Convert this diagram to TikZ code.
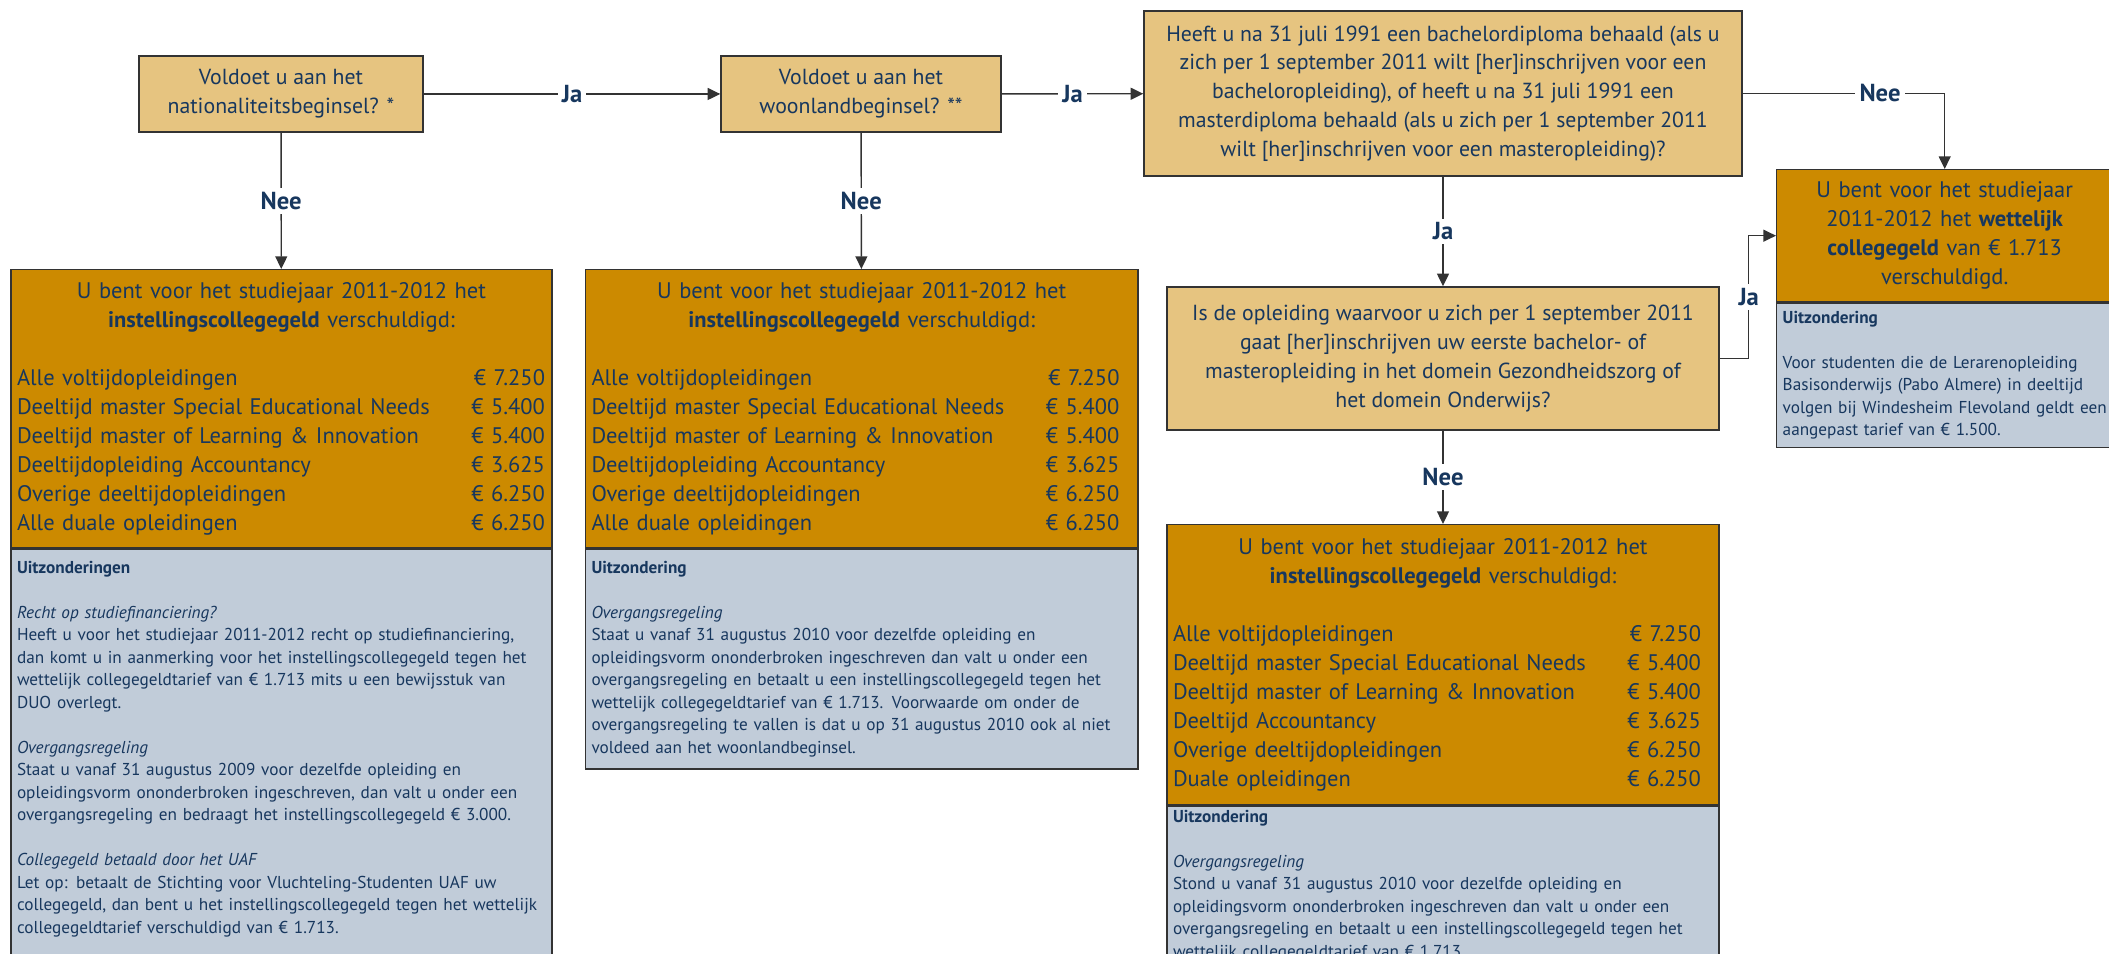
\documentclass[tikz,border=0pt]{standalone}
\usepackage{fontspec}
\setmainfont{PT Sans}
\usepackage{tikz}
\usetikzlibrary{arrows.meta, positioning}

\definecolor{navy}{RGB}{23,55,94}
\definecolor{askfill}{RGB}{230,196,128}
\definecolor{ochre}{RGB}{204,138,0}
\definecolor{slate}{RGB}{193,204,217}

% one row of the fee list: label left, amount right
\newcommand{\feerow}[2]{\makebox[\hsize][l]{\makebox[5.28cm]{#1\hfill#2}}}

\begin{document}
\begin{tikzpicture}[line width=0.4pt,
      box/.style={draw=black!80, text=navy, inner sep=0pt},
      ask/.style={box, fill=askfill, align=center, font=\fontsize{6.2}{8.2}\selectfont},
      fee/.style={box, fill=ochre, align=center, font=\fontsize{6.4}{8.25}\selectfont},
      exc/.style={box, fill=slate, align=left, inner xsep=0.06cm, inner ysep=0.12cm,
                  font=\fontsize{4.9}{6.4}\selectfont},
      lbl/.style={fill=white, text=navy, inner sep=1.2pt, font=\fontsize{7}{8}\selectfont\bfseries},
      flow/.style={-{Triangle[length=3.6pt, width=3.4pt]}, draw=black!80}]

    \path[use as bounding box] (0,0) rectangle (21.09,-9.54);
    \clip (0,0) rectangle (21.09,-9.54);

    % questions
    \node[ask, minimum width=2.84cm, minimum height=0.76cm] (nat) at (2.81,-0.94)
      {Voldoet u aan het\\nationaliteitsbeginsel? *};
    \node[ask, minimum width=2.80cm, minimum height=0.76cm] (woon) at (8.61,-0.94)
      {Voldoet u aan het\\woonlandbeginsel? **};
    \node[ask, minimum width=5.98cm, minimum height=1.65cm] (bach) at (14.43,-0.935)
      {Heeft u na 31 juli 1991 een bachelordiploma behaald (als u\\
       zich per 1 september 2011 wilt [her]inschrijven voor een\\
       bacheloropleiding), of heeft u na 31 juli 1991 een\\
       masterdiploma behaald (als u zich per 1 september 2011\\
       wilt [her]inschrijven voor een masteropleiding)?};
    \node[ask, minimum width=5.52cm, minimum height=1.43cm] (domein) at (14.43,-3.585)
      {Is de opleiding waarvoor u zich per 1 september 2011\\
       gaat [her]inschrijven uw eerste bachelor- of\\
       masteropleiding in het domein Gezondheidszorg of\\
       het domein Onderwijs?};

    % outcome 1: not nationality
    \node[fee, anchor=north, text width=5.29cm, minimum width=5.41cm, minimum height=2.78cm]
      (fee1) at (2.815,-2.69)
      {U bent voor het studiejaar 2011-2012 het\\
       \textbf{instellingscollegegeld} verschuldigd:\\[8.25pt]
       \feerow{Alle voltijdopleidingen}{€ 7.250}\\
       \feerow{Deeltijd master Special Educational Needs}{€ 5.400}\\
       \feerow{Deeltijd master of Learning \& Innovation}{€ 5.400}\\
       \feerow{Deeltijdopleiding Accountancy}{€ 3.625}\\
       \feerow{Overige deeltijdopleidingen}{€ 6.250}\\
       \feerow{Alle duale opleidingen}{€ 6.250}};
    \node[exc, below=0pt of fee1, text width=5.29cm] (exc1)
      {\textbf{Uitzonderingen}\\[6.4pt]
       \textit{Recht op studiefinanciering?}\\
       Heeft u voor het studiejaar 2011-2012 recht op studiefinanciering,\\
       dan komt u in aanmerking voor het instellingscollegegeld tegen het\\
       wettelijk collegegeldtarief van € 1.713 mits u een bewijsstuk van\\
       DUO overlegt.\\[6.4pt]
       \textit{Overgangsregeling}\\
       Staat u vanaf 31 augustus 2009 voor dezelfde opleiding en\\
       opleidingsvorm ononderbroken ingeschreven, dan valt u onder een\\
       overgangsregeling en bedraagt het instellingscollegegeld € 3.000.\\[6.4pt]
       \textit{Collegegeld betaald door het UAF}\\
       Let op: betaalt de Stichting voor Vluchteling-Studenten UAF uw\\
       collegegeld, dan bent u het instellingscollegegeld tegen het wettelijk\\
       collegegeldtarief verschuldigd van € 1.713.\par\vspace*{0.6cm}};

    % outcome 2: not residence
    \node[fee, anchor=north, text width=5.405cm, minimum width=5.525cm, minimum height=2.78cm]
      (fee2) at (8.6175,-2.69)
      {U bent voor het studiejaar 2011-2012 het\\
       \textbf{instellingscollegegeld} verschuldigd:\\[8.25pt]
       \feerow{Alle voltijdopleidingen}{€ 7.250}\\
       \feerow{Deeltijd master Special Educational Needs}{€ 5.400}\\
       \feerow{Deeltijd master of Learning \& Innovation}{€ 5.400}\\
       \feerow{Deeltijdopleiding Accountancy}{€ 3.625}\\
       \feerow{Overige deeltijdopleidingen}{€ 6.250}\\
       \feerow{Alle duale opleidingen}{€ 6.250}};
    \node[exc, below=0pt of fee2, text width=5.405cm] (exc2)
      {\textbf{Uitzondering}\\[6.4pt]
       \textit{Overgangsregeling}\\
       Staat u vanaf 31 augustus 2010 voor dezelfde opleiding en\\
       opleidingsvorm ononderbroken ingeschreven dan valt u onder een\\
       overgangsregeling en betaalt u een instellingscollegegeld tegen het\\
       wettelijk collegegeldtarief van € 1.713. Voorwaarde om onder de\\
       overgangsregeling te vallen is dat u op 31 augustus 2010 ook al niet\\
       voldeed aan het woonlandbeginsel.};

    % outcome 3: statutory fee
    \node[fee, anchor=north west, text width=3.36cm, minimum height=1.32cm]
      (fee3) at (17.76,-1.69)
      {U bent voor het studiejaar\\
       2011-2012 het \textbf{wettelijk}\\
       \textbf{collegegeld} van € 1.713\\
       verschuldigd.};
    \node[exc, below=0pt of fee3.south west, anchor=north west, text width=3.30cm,
          inner ysep=0.08cm] (exc3)
      {\textbf{Uitzondering}\\[6.4pt]
       Voor studenten die de Lerarenopleiding\\
       Basisonderwijs (Pabo Almere) in deeltijd\\
       volgen bij Windesheim Flevoland geldt een\\
       aangepast tarief van € 1.500.};

    % outcome 4: second degree
    \node[fee, anchor=north, text width=5.40cm, minimum width=5.52cm, minimum height=2.80cm]
      (fee4) at (14.43,-5.24)
      {U bent voor het studiejaar 2011-2012 het\\
       \textbf{instellingscollegegeld} verschuldigd:\\[8.25pt]
       \feerow{Alle voltijdopleidingen}{€ 7.250}\\
       \feerow{Deeltijd master Special Educational Needs}{€ 5.400}\\
       \feerow{Deeltijd master of Learning \& Innovation}{€ 5.400}\\
       \feerow{Deeltijd Accountancy}{€ 3.625}\\
       \feerow{Overige deeltijdopleidingen}{€ 6.250}\\
       \feerow{Duale opleidingen}{€ 6.250}};
    \node[exc, below=0pt of fee4, text width=5.40cm, inner ysep=0.04cm] (exc4)
      {\textbf{Uitzondering}\\[6.4pt]
       \textit{Overgangsregeling}\\
       Stond u vanaf 31 augustus 2010 voor dezelfde opleiding en\\
       opleidingsvorm ononderbroken ingeschreven dan valt u onder een\\
       overgangsregeling en betaalt u een instellingscollegegeld tegen het\\
       wettelijk collegegeldtarief van € 1.713.\par\vspace*{0.6cm}};

    % decisions
    \draw[flow] (nat) -- node[lbl] {Ja} (woon);
    \draw[flow] (woon) -- node[lbl] {Ja} (bach);
    \draw[flow] (nat) -- node[lbl] {Nee} (fee1);
    \draw[flow] (woon) -- node[lbl] {Nee} (fee2);
    \draw[flow] (bach.east) -| node[lbl, pos=0.34] {Nee} (fee3.north);
    \draw[flow] (bach) -- node[lbl] {Ja} (domein);
    \draw[flow] (domein.east) -- ++(0.29,0) |- node[lbl, pos=0.25] {Ja} (fee3.west);
    \draw[flow] (domein) -- node[lbl] {Nee} (fee4);

\end{tikzpicture}
\end{document}
